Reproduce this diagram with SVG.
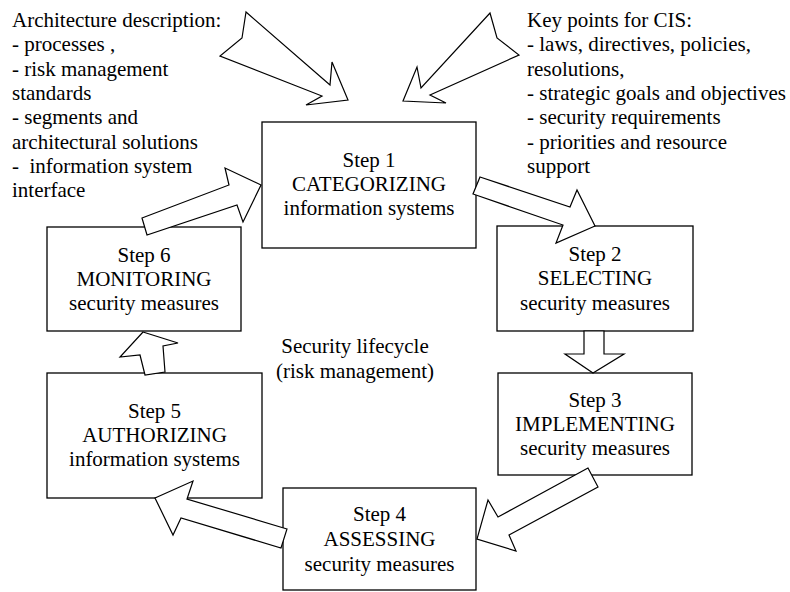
<svg xmlns="http://www.w3.org/2000/svg" width="790" height="592" viewBox="0 0 790 592">
<style>
text{font-family:"Liberation Serif","Times New Roman",serif;font-size:21px;fill:#000}
.c{text-anchor:middle}
.box{fill:#fff;stroke:#000;stroke-width:1.3}
.arr{fill:#fff;stroke:#000;stroke-width:1.2;stroke-linejoin:miter}
</style>
<rect width="790" height="592" fill="#fff"/>
<g id="note-left">
<text x="12" y="27">Architecture description:</text>
<text x="12" y="51.3">- processes ,</text>
<text x="12" y="75.6">- risk management</text>
<text x="12" y="99.9">standards</text>
<text x="12" y="124.2">- segments and</text>
<text x="12" y="148.5">architectural solutions</text>
<text x="12" y="172.8" xml:space="preserve">-  information system</text>
<text x="12" y="197.1">interface</text>
</g>
<g id="note-right">
<text x="527" y="27">Key points for CIS:</text>
<text x="527" y="51.3">- laws, directives, policies,</text>
<text x="527" y="75.6">resolutions,</text>
<text x="527" y="99.9">- strategic goals and objectives</text>
<text x="527" y="124.2">- security requirements</text>
<text x="527" y="148.5">- priorities and resource</text>
<text x="527" y="172.8">support</text>
</g>
<g id="step1">
<rect class="box" x="262" y="122" width="214" height="126"/>
<text class="c" x="369" y="167">Step 1</text>
<text class="c" x="369" y="191">CATEGORIZING</text>
<text class="c" x="369" y="215">information systems</text>
</g>
<g id="step2">
<rect class="box" x="497" y="226" width="196" height="105"/>
<text class="c" x="595" y="261">Step 2</text>
<text class="c" x="595" y="285">SELECTING</text>
<text class="c" x="595" y="310">security measures</text>
</g>
<g id="step3">
<rect class="box" x="498" y="373" width="194" height="102"/>
<text class="c" x="595" y="407">Step 3</text>
<text class="c" x="595" y="431">IMPLEMENTING</text>
<text class="c" x="595" y="455">security measures</text>
</g>
<g id="step4">
<rect class="box" x="283" y="488" width="193" height="102"/>
<text class="c" x="379.5" y="521">Step 4</text>
<text class="c" x="379.5" y="546">ASSESSING</text>
<text class="c" x="379.5" y="571">security measures</text>
</g>
<g id="step5">
<rect class="box" x="47" y="373" width="215" height="125"/>
<text class="c" x="154.5" y="418">Step 5</text>
<text class="c" x="154.5" y="442">AUTHORIZING</text>
<text class="c" x="154.5" y="466">information systems</text>
</g>
<g id="step6">
<rect class="box" x="47" y="227" width="194" height="104"/>
<text class="c" x="144" y="262">Step 6</text>
<text class="c" x="144" y="286">MONITORING</text>
<text class="c" x="144" y="310">security measures</text>
</g>
<g id="center-label">
<text class="c" x="355" y="353">Security lifecycle</text>
<text class="c" x="355" y="378">(risk management)</text>
</g>
<g id="connectors">
<polygon class="arr" points="246,12 242,38 220,56 322,96 306,105 348,100 332,62 330,85"/>
<polygon class="arr" points="490,13 497,38 519,55 430,95 446,103 403,101 417,67 421,88"/>
<polygon class="arr" points="142,218 229,185 225,168 261,185 243,222 237,205 147,235"/>
<polygon class="arr" points="480,177 570,207 577,190 595,226 556,243 563,225 473,194"/>
<polygon class="arr" points="584,331 584,354 565,354 593,373 624,354 604,354 604,331"/>
<polygon class="arr" points="588,468 498,517 488,500 477,539 516,551 509,535 598,487"/>
<polygon class="arr" points="287,529 187,499 193,481 155,498 173,535 181,518 281,548"/>
<polygon class="arr" points="143,332 178,343 163,346 165,372 145,375 140,355 120,357"/>
</g>
</svg>
